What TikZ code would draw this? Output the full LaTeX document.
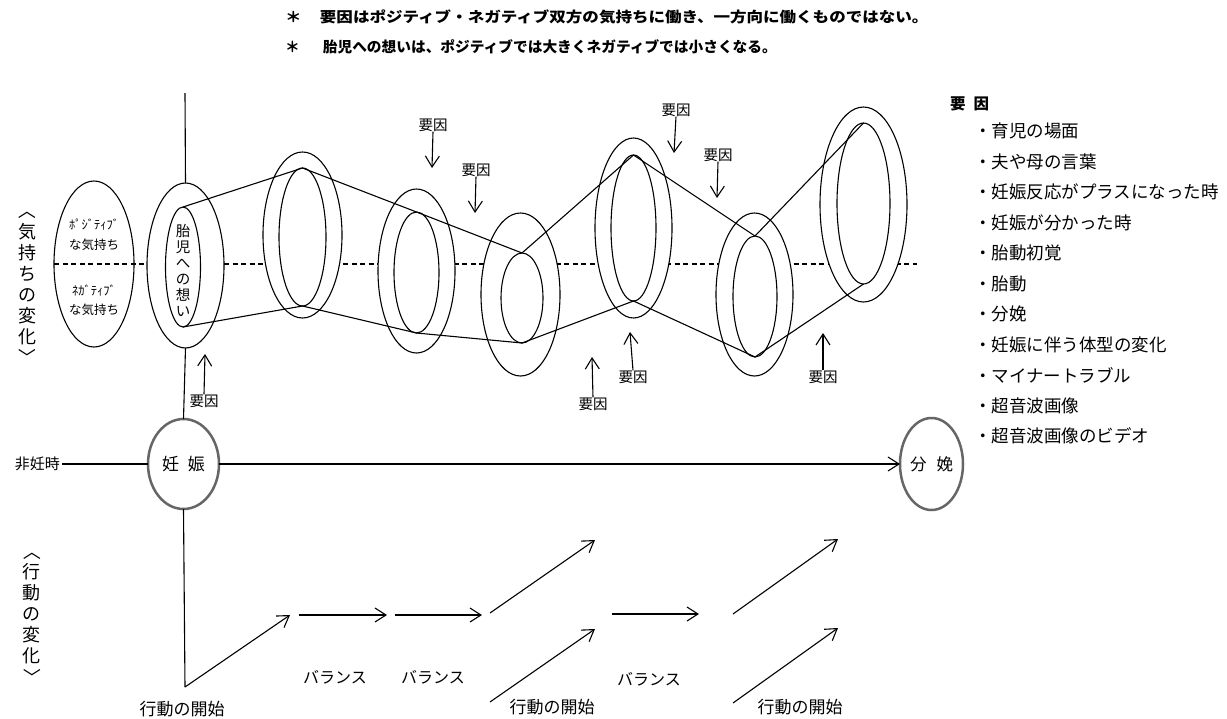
\documentclass[tikz,border=0pt]{standalone}
\usepackage{fontspec}
\usepackage{graphicx}
\setmainfont{Noto Sans CJK JP}
\usetikzlibrary{shapes.geometric,arrows.meta}
\newcommand{\chevup}{\rotatebox[origin=c]{-90}{〈}}
\newcommand{\chevdown}{\rotatebox[origin=c]{-90}{〉}}
\begin{document}
\begin{tikzpicture}[x=1pt,y=-1pt,
  ln/.style={line width=1.1pt},
  arr/.style={line width=1.1pt,-{Straight Barb[length=11pt,width=14pt]}},
  ring/.style={ellipse,draw,line width=1.1pt,fill=white,inner sep=0pt,outer sep=0pt},
  bigring/.style={ellipse,draw=black!60,line width=2.5pt,fill=white,inner sep=0pt,outer sep=0pt},
  lbl/.style={inner sep=0pt,font=\fontsize{14.5}{15}\selectfont},
  small/.style={inner sep=0pt,font=\fontsize{12.5}{13}\selectfont},
  vlab/.style={inner sep=0pt,align=center,font=\fontsize{18}{21}\selectfont},
  legitem/.style={anchor=west,inner sep=0pt,font=\fontsize{17.5}{18}\selectfont},
  toptext/.style={anchor=west,inner sep=0pt,font=\bfseries\fontsize{14.5}{15}\selectfont},
  bot/.style={inner sep=0pt,font=\fontsize{17}{18}\selectfont}
]
\fill[white] (0,0) rectangle (1227,718);
\useasboundingbox (0,0) rectangle (1227,718);

% top notes
\node[toptext] (note1) at (285,17) {\scalebox{1.14}[1]{＊\hspace{16pt}要因はポジティブ・ネガティブ双方の気持ちに働き、一方向に働くものではない。}};
\node[toptext,font=\bfseries\fontsize{14.7}{15}\selectfont] (note2) at (285,47) {＊\hspace{23pt}胎児への想いは、ポジティブでは大きくネガティブでは小さくなる。};

% left ellipse and dashed line
\node[ellipse,draw,line width=1.1pt,inner sep=0pt,outer sep=0pt,minimum width=80pt,minimum height=166pt] (L) at (94,264) {};
\coordinate (dR) at (917,264);
\draw[ln,dash pattern=on 5pt off 3.5pt] (L.west) -- (dR);
\node[small] (pos1) at (94,224) {ﾎﾟｼﾞﾃｨﾌﾞ};
\node[small] (pos2) at (94,245) {な気持ち};
\node[small] (neg1) at (94,290) {ﾈｶﾞﾃｨﾌﾞ};
\node[small] (neg2) at (94,310) {な気持ち};

% vertical labels
\node[vlab] (kimochi) at (27,284) {\chevup\\気\\持\\ち\\の\\変\\化\\\chevdown};
\node[vlab] (koudou) at (32,614) {\chevup\\行\\動\\の\\変\\化\\\chevdown};

% rings
\node[ring,minimum width=77pt,minimum height=165pt] (e1o) at (185.5,265.5) {};
\node[ring,minimum width=35pt,minimum height=120pt] (e1i) at (183,267) {};
\node[inner sep=0pt,align=center,font=\fontsize{14.5}{16}\selectfont] (t1) at (183,270) {胎\\児\\へ\\の\\想\\い};
\node[ring,minimum width=79pt,minimum height=166pt] (e2o) at (302.5,235) {};
\node[ring,minimum width=47pt,minimum height=138pt] (e2i) at (302.5,237) {};
\node[ring,minimum width=77pt,minimum height=164pt] (e3o) at (416.5,271) {};
\node[ring,minimum width=45pt,minimum height=121pt] (e3i) at (416.5,272.5) {};
\node[ring,minimum width=79pt,minimum height=163pt] (e4o) at (520.5,294.5) {};
\node[ring,minimum width=42pt,minimum height=90pt] (e4i) at (522,298) {};
\node[ring,minimum width=77pt,minimum height=180pt] (e5o) at (633.5,228) {};
\node[ring,minimum width=45pt,minimum height=146pt] (e5i) at (633.5,228) {};
\node[ring,minimum width=77pt,minimum height=163pt] (e6o) at (754.5,294.5) {};
\node[ring,minimum width=44pt,minimum height=121pt] (e6i) at (755,296.5) {};
\node[ring,minimum width=87pt,minimum height=195pt] (e7o) at (863.5,204.5) {};
\node[ring,minimum width=53pt,minimum height=161pt] (e7i) at (863.5,203.5) {};

\draw[ln,line join=round] (e1i.north) -- (e2i.north) -- (e3i.north) -- (e4i.north) -- (e5i.north) -- (e6i.north) -- (e7i.north);
\draw[ln,line join=round] (e1i.south) -- (e2i.south) -- (e3i.south) -- (e4i.south) -- (e5i.south) -- (e6i.south) -- (e7i.south);

% timeline
\node[bigring,minimum width=71pt,minimum height=90pt,font=\fontsize{17}{17}\selectfont] (nin) at (183.5,464) {妊\hspace{9pt}娠};
\node[bigring,minimum width=63pt,minimum height=92pt,font=\fontsize{16.5}{17}\selectfont] (bun) at (931.5,464) {分\hspace{10pt}娩};
\node[anchor=east,inner sep=2pt,font=\fontsize{15}{15}\selectfont] (hin) at (62,464) {非妊時};
\draw[ln] (hin.east) -- (nin.west);
\draw[arr] (nin.east) -- (bun.west);

% vertical axis
\coordinate (axT) at (185,93);
\coordinate (axB) at (185,687);
\draw[ln] (axT) -- (e1o.north);
\draw[ln] (e1o.south) -- (nin.north);
\draw[ln] (nin.south) -- (axB);

% factor arrows
\node[lbl] (y1) at (204,401) {要因};
\coordinate (y1a) at (205,354);
\draw[arr] (y1.north) -- (y1a);
\node[lbl] (y2) at (433,125) {要因};
\coordinate (y2a) at (432,168);
\draw[arr] (y2.south) -- (y2a);
\node[lbl] (y3) at (476,170) {要因};
\coordinate (y3a) at (475,213);
\draw[arr] (y3.south) -- (y3a);
\node[lbl] (y4) at (676,110) {要因};
\coordinate (y4a) at (674,153);
\draw[arr] (y4.south) -- (y4a);
\node[lbl] (y5) at (718,155) {要因};
\coordinate (y5a) at (717,198);
\draw[arr] (y5.south) -- (y5a);
\node[lbl] (y6) at (593,404) {要因};
\coordinate (y6a) at (592,357);
\draw[arr] (y6.north) -- (y6a);
\node[lbl] (y7) at (633,377) {要因};
\coordinate (y7a) at (630,332);
\draw[arr] (y7.north) -- (y7a);
\node[lbl] (y8) at (823,377) {要因};
\coordinate (y8a) at (823,333);
\draw[arr] (y8.north) -- (y8a);

% legend
\node[anchor=west,inner sep=0pt,font=\bfseries\fontsize{15.5}{16}\selectfont] (lh) at (950,104) {要\hspace{8pt}因};
\node[legitem] (f1) at (974,131) {・育児の場面};
\node[legitem] (f2) at (974,161.5) {・夫や母の言葉};
\node[legitem] (f3) at (974,192) {・妊娠反応がプラスになった時};
\node[legitem] (f4) at (974,222.5) {・妊娠が分かった時};
\node[legitem] (f5) at (974,253) {・胎動初覚};
\node[legitem] (f6) at (974,283.5) {・胎動};
\node[legitem] (f7) at (974,314) {・分娩};
\node[legitem] (f8) at (974,344.5) {・妊娠に伴う体型の変化};
\node[legitem] (f9) at (974,375) {・マイナートラブル};
\node[legitem] (f10) at (974,405.5) {・超音波画像};
\node[legitem] (f11) at (974,436) {・超音波画像のビデオ};

% behaviour arrows
\coordinate (p1) at (290,615);
\coordinate (p2s) at (299,615); \coordinate (p2e) at (387,615);
\coordinate (p3s) at (395,615); \coordinate (p3e) at (482,615);
\coordinate (p4s) at (490,613); \coordinate (p4e) at (595,540);
\coordinate (p5s) at (490,702); \coordinate (p5e) at (595,629);
\coordinate (p6s) at (612,614); \coordinate (p6e) at (699,614);
\coordinate (p7s) at (733,614); \coordinate (p7e) at (838,539);
\coordinate (p8s) at (733,703); \coordinate (p8e) at (838,628);
\draw[arr] (axB) -- (p1);
\draw[arr] (p2s) -- (p2e);
\draw[arr] (p3s) -- (p3e);
\draw[arr] (p4s) -- (p4e);
\draw[arr] (p5s) -- (p5e);
\draw[arr] (p6s) -- (p6e);
\draw[arr] (p7s) -- (p7e);
\draw[arr] (p8s) -- (p8e);

\node[bot] (k1) at (182,709) {行動の開始};
\node[bot] (k2) at (552,707) {行動の開始};
\node[bot] (k3) at (800,707) {行動の開始};
\node[bot,font=\fontsize{16}{17}\selectfont] (b1) at (335,677) {バランス};
\node[bot,font=\fontsize{16}{17}\selectfont] (b2) at (433,677) {バランス};
\node[bot,font=\fontsize{16}{17}\selectfont] (b3) at (649,679) {バランス};
\end{tikzpicture}
\end{document}
